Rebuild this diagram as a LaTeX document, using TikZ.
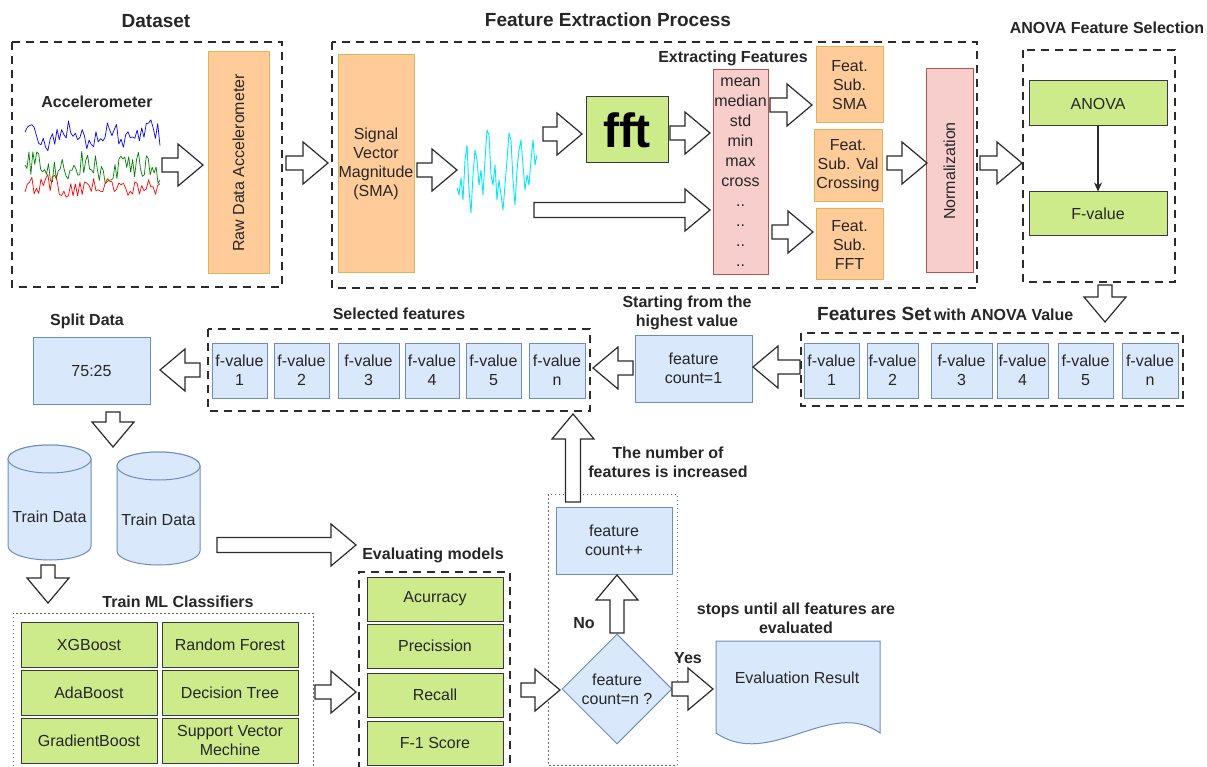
\documentclass[tikz,border=0pt]{standalone}
\usepackage{fontspec}
\setmainfont{Liberation Sans}
\usetikzlibrary{calc,shapes.geometric,arrows.meta}
\definecolor{orF}{HTML}{FFCC99}
\definecolor{orD}{HTML}{D6B656}
\definecolor{pkF}{HTML}{F8CECC}
\definecolor{pkD}{HTML}{B85450}
\definecolor{grF}{HTML}{CDEB8B}
\definecolor{grD}{HTML}{36393D}
\definecolor{blF}{HTML}{DAE8FC}
\definecolor{blD}{HTML}{6C8EBF}
\definecolor{tc}{HTML}{262626}
\definecolor{lc}{HTML}{2B2B2B}
\definecolor{cyw}{HTML}{00E8FF}
\newcommand\bx[7]{\node[#2,minimum width={#5-#3},minimum height={#6-#4}] (#1) at ({(#3+#5)/2},{(#4+#6)/2}) {#7};}
\newcommand\barrow[3][7]{%
  \coordinate (ba) at #2; \coordinate (bb) at #3;
  \coordinate (bh) at ($(bb)!25pt!(ba)$);
  \draw[barr] ($(ba)!#1pt!90:(bb)$) -- ($(bh)!#1pt!90:(bb)$) -- ($(bh)!21pt!90:(bb)$) -- (bb) -- ($(bh)!21pt!-90:(bb)$) -- ($(bh)!#1pt!-90:(bb)$) -- ($(ba)!#1pt!-90:(bb)$) -- cycle;}
\begin{document}
\begin{tikzpicture}[x=1pt,y=-1pt,
  barr/.style={draw=lc, line width=1.2pt, fill=white, line join=miter},
  txt/.style={font=\fontsize{16}{19}\selectfont, text=tc, align=center},
  lbl/.style={font=\bfseries\fontsize{16}{19}\selectfont, text=tc, align=center},
  ttl/.style={font=\bfseries\fontsize{19}{22}\selectfont, text=tc},
  orbox/.style={rectangle, draw=orD, fill=orF, line width=1pt, txt, inner sep=0pt},
  pkbox/.style={rectangle, draw=pkD, fill=pkF, line width=1pt, txt, inner sep=0pt},
  grbox/.style={rectangle, draw=grD, fill=grF, line width=1pt, txt, inner sep=0pt},
  blbox/.style={rectangle, draw=blD, fill=blF, line width=1pt, txt, inner sep=0pt},
  cylst/.style={draw=blD, fill=blF, line width=1pt},
  dbox/.style={draw=lc, line width=1.3pt, dash pattern=on 8pt off 6pt},
  obox/.style={draw=black!60, line width=1pt, dash pattern=on 1.5pt off 2.5pt},
  wave/.style={line width=0.7pt, line join=round}]
\useasboundingbox (0,0) rectangle (1207,767);
\fill[white] (0,0) rectangle (1207,767);

% ---------- Dataset ----------
\node[ttl] (tds) at (156,21) {Dataset};
\draw[dbox] (12,42) rectangle (282,287);
\node[lbl] (tacc) at (97,102) {Accelerometer};
\pgfmathsetseed{11}
\draw[wave, blue] plot[domain=25:160, samples=60] (\x, {136 + 6*sin(\x*9) + 11*rand});
\draw[wave, green!50!black] plot[domain=25:160, samples=70] (\x, {168 + 4*sin(\x*7+40) + 13*rand});
\draw[wave, red] plot[domain=25:160, samples=60] (\x, {187 + 4*sin(\x*6) + 10*rand});
\node[orbox, rotate=90, minimum width=222, minimum height=61] (raw) at (238.5,163) {Raw Data Accelerometer};

% ---------- Feature extraction ----------
\node[ttl] (tfe) at (608,20) {Feature Extraction Process};
\draw[dbox] (332,42) rectangle (977,288);
\bx{svm}{orbox}{338}{55}{414}{273}{Signal\\Vector\\Magnitude\\(SMA)}
\draw[wave, cyw, line width=0.9pt] (457,188) -- (459,195) -- (461,178) -- (463,200) -- (465,160) -- (467,145) -- (469,190) -- (471,213) -- (473,175) -- (475,150) -- (477,160) -- (479,185) -- (481,170) -- (483,195) -- (485,160) -- (487,130) -- (489,135) -- (491,175) -- (493,185) -- (495,165) -- (497,200) -- (499,180) -- (501,195) -- (503,210) -- (505,185) -- (507,160) -- (509,133) -- (511,140) -- (513,180) -- (515,205) -- (517,170) -- (519,150) -- (521,140) -- (523,165) -- (525,190) -- (527,175) -- (529,185) -- (531,160) -- (533,140) -- (535,165) -- (537,155);
\bx{fft}{grbox, font=\bfseries\fontsize{48}{48}\selectfont, text=black}{586}{97}{668}{163}{fft}
\node[lbl] (tef) at (733,58) {Extracting Features};
\bx{flist}{pkbox, font=\fontsize{16}{20}\selectfont}{713}{70}{768}{275}{mean\\median\\std\\min\\max\\cross\\..\\..\\..\\..}
\bx{fsma}{orbox}{816}{47}{883}{123}{Feat.\\Sub.\\SMA}
\bx{fvc}{orbox}{814}{130}{882}{202}{Feat.\\Sub. Val\\Crossing}
\bx{ffft}{orbox}{816}{209}{883}{280}{Feat.\\Sub.\\FFT}
\node[pkbox, rotate=90, minimum width=204, minimum height=47] (norm) at (949.5,171) {Normalization};

% ---------- ANOVA ----------
\node[lbl] (tan) at (1107,28) {ANOVA Feature Selection};
\draw[dbox] (1023,50) rectangle (1175,282);
\bx{anova}{grbox}{1029}{81}{1167}{126}{ANOVA}
\bx{fv}{grbox}{1029}{192}{1167}{236}{F-value}
\draw[line width=1.2pt, draw=lc, -{Stealth[length=9pt,width=8pt]}] (anova) -- (fv);

% ---------- Features set ----------
\node[anchor=west, text=tc, inner sep=0pt] (tfs) at (817,314) {{\bfseries\fontsize{19}{22}\selectfont Features Set} {\bfseries\fontsize{16}{19}\selectfont with ANOVA Value}};
\draw[dbox] (801,333) rectangle (1183,406);
\bx{fs1}{blbox}{804}{343}{859}{398}{f-value\\1}
\bx{fs2}{blbox}{867}{343}{918}{398}{f-value\\2}
\bx{fs3}{blbox}{931}{343}{992}{398}{f-value\\3}
\bx{fs4}{blbox}{997}{343}{1048}{398}{f-value\\4}
\bx{fs5}{blbox}{1058}{343}{1113}{398}{f-value\\5}
\bx{fsn}{blbox}{1122}{343}{1178}{398}{f-value\\n}

\node[lbl] (tst) at (687,313) {Starting from the\\highest value};
\bx{cnt1}{blbox}{635}{335}{752}{402}{feature\\count=1}

\node[lbl] (tsel) at (399,314) {Selected features};
\draw[dbox] (208,329) rectangle (590,411);
\bx{sf1}{blbox}{212}{343}{267}{398}{f-value\\1}
\bx{sf2}{blbox}{274}{343}{329}{398}{f-value\\2}
\bx{sf3}{blbox}{338}{343}{399}{398}{f-value\\3}
\bx{sf4}{blbox}{405}{343}{459}{398}{f-value\\4}
\bx{sf5}{blbox}{466}{343}{521}{398}{f-value\\5}
\bx{sfn}{blbox}{529}{343}{585}{398}{f-value\\n}

\node[lbl] (tsp) at (87,321) {Split Data};
\bx{split}{blbox}{33}{337}{150}{404}{75:25}

% ---------- Train data ----------
\filldraw[cylst] (8,459) -- (8,546) arc[start angle=180,end angle=360,x radius=41.5pt,y radius=14pt] -- (91,459) arc[start angle=0,end angle=180,x radius=41.5pt,y radius=14pt] -- cycle;
\draw[cylst] (49.5,459) ellipse[x radius=41.5pt,y radius=14pt];
\node[txt] (td1) at (49.5,517) {Train Data};
\filldraw[cylst] (117,466) -- (117,551) arc[start angle=180,end angle=360,x radius=41.5pt,y radius=14pt] -- (200,466) arc[start angle=0,end angle=180,x radius=41.5pt,y radius=14pt] -- cycle;
\draw[cylst] (158.5,466) ellipse[x radius=41.5pt,y radius=14pt];
\node[txt] (td2) at (158.5,520) {Train Data};

% ---------- Train ML classifiers ----------
\node[lbl] (tml) at (178,602) {Train ML Classifiers};
\draw[obox] (13,770) -- (13,613) -- (313,613) -- (313,770);
\bx{xgb}{grbox}{21}{622}{157}{667}{XGBoost}
\bx{rf}{grbox}{162}{622}{298}{667}{Random Forest}
\bx{ada}{grbox}{21}{670}{157}{715}{AdaBoost}
\bx{dt}{grbox}{162}{670}{298}{715}{Decision Tree}
\bx{gb}{grbox}{21}{718}{157}{763}{GradientBoost}
\bx{svmc}{grbox}{162}{718}{298}{763}{Support Vector\\Mechine}

% ---------- Evaluating models ----------
\node[lbl] (tev) at (433,555) {Evaluating models};
\draw[dbox] (359,770) -- (359,572) -- (510,572) -- (510,770);
\bx{acc}{grbox}{367}{577}{503}{621}{Acurracy}
\bx{pre}{grbox}{367}{624}{503}{668}{Precission}
\bx{rec}{grbox}{367}{673}{503}{717}{Recall}
\bx{f1}{grbox}{367}{721}{503}{765}{F-1 Score}

% ---------- Loop ----------
\draw[obox] (548,494) rectangle (677,765);
\bx{cpp}{blbox}{556}{507}{672}{574}{feature\\count++}
\node[blbox, diamond, aspect=1, minimum width=110, minimum height=110] (dec) at (617,689) {feature\\count=n ?};
\node[lbl] (tno) at (584,623) {No};
\node[lbl] (tyes) at (688,658) {Yes};
\node[lbl] (tinc) at (668,462) {The number of\\features is increased};
\node[lbl] (tstop) at (796,618) {stops until all features are\\evaluated};
\filldraw[cylst] (716,641) -- (880,641) -- (880,733) .. controls (830,697) and (770,770) .. (716,733) -- cycle;
\node[txt] (evr) at (797,678) {Evaluation Result};

% ---------- Block arrows ----------
\barrow{(162,165)}{(203,165)}
\barrow{(286,163)}{(328,163)}
\barrow{(417,170)}{(457,170)}
\barrow{(543,134)}{(582,134)}
\barrow[7.5]{(534,210)}{(710,210)}
\barrow{(670,133)}{(710,133)}
\barrow{(770,105)}{(812,105)}
\barrow{(772,232)}{(813,232)}
\barrow{(887,163)}{(927,163)}
\barrow{(980,163)}{(1022,163)}
\barrow{(1105,285)}{(1105,322)}
\barrow{(800,367)}{(753,367)}
\barrow{(633,368)}{(593,368)}
\barrow{(200,370)}{(160,370)}
\barrow{(113,412)}{(113,447)}
\barrow[7.5]{(217,545)}{(356,545)}
\barrow{(48,565)}{(48,603)}
\barrow{(315,692)}{(356,692)}
\barrow{(521,690)}{(560,690)}
\barrow{(617,633)}{(617,575)}
\barrow{(672,689)}{(713,689)}
\barrow[7.5]{(573,502)}{(573,414)}
\end{tikzpicture}
\end{document}
